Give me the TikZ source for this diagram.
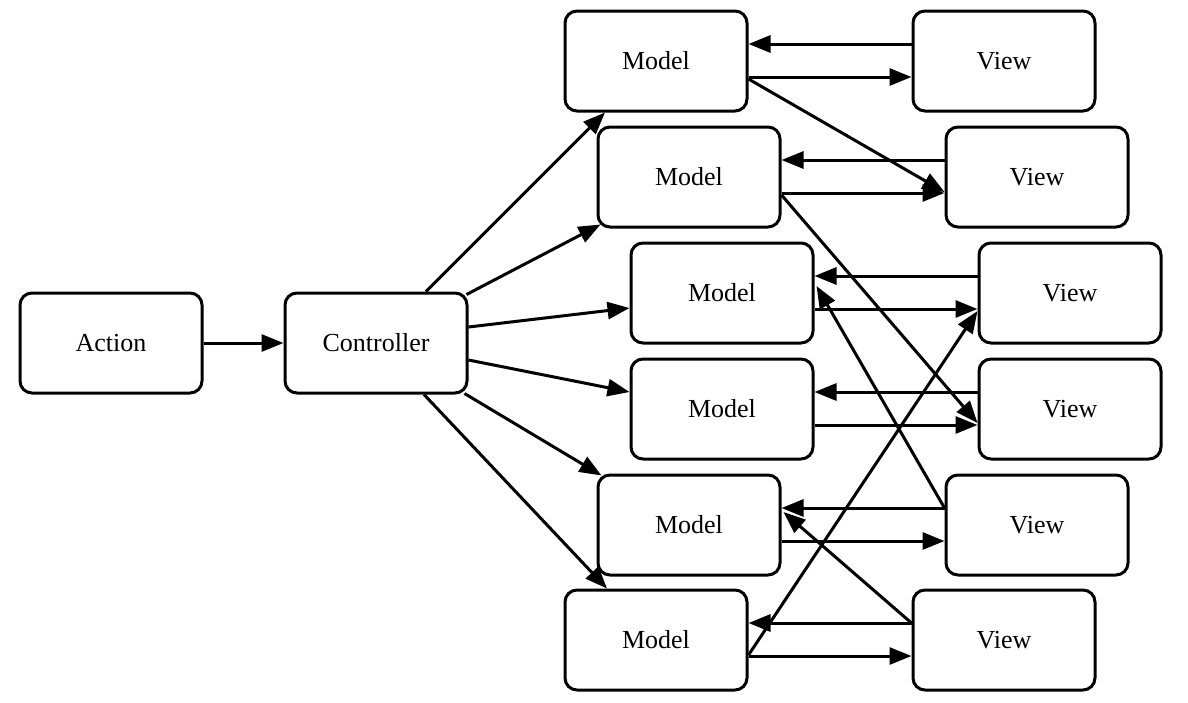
\documentclass[tikz,border=0pt]{standalone}
\usepackage{fontspec}
\setmainfont{Liberation Serif}
\usetikzlibrary{arrows.meta}
\begin{document}
\begin{tikzpicture}[x=1pt,y=-1pt,
  box/.style={draw,line width=3pt,rounded corners=12pt,minimum width=182pt,minimum height=100pt,inner sep=0pt,font=\fontsize{26}{30}\selectfont},
  conn/.style={line width=3pt,-{Triangle[length=22pt,width=17pt]}}]
\useasboundingbox (0,0) rectangle (1188,702);
\node[box] (act) at (111,343) {Action};
\node[box] (ctrl) at (376,343) {Controller};
\node[box] (m1) at (656,61) {Model};
\node[box] (v1) at (1004,61) {View};
\node[box] (m2) at (689,177) {Model};
\node[box] (v2) at (1037,177) {View};
\node[box] (m3) at (722,293) {Model};
\node[box] (v3) at (1070,293) {View};
\node[box] (m4) at (722,409) {Model};
\node[box] (v4) at (1070,409) {View};
\node[box] (m5) at (689,525) {Model};
\node[box] (v5) at (1037,525) {View};
\node[box] (m6) at (656,640) {Model};
\node[box] (v6) at (1004,640) {View};
% action -> controller
\draw[conn] (act) -- (ctrl);
% controller -> models
\draw[conn] ([xshift=50pt]ctrl.north) -- ([xshift=-51pt]m1.south);
\draw[conn] ([xshift=-2pt,yshift=-3pt]ctrl.north east) -- ([xshift=4pt,yshift=4pt]m2.south west);
\draw[conn] ([yshift=16pt]ctrl.east) -- ([yshift=-15pt]m3.west);
\draw[conn] ([yshift=-17pt]ctrl.east) -- ([yshift=17pt]m4.west);
\draw[conn] ([xshift=-4pt,yshift=1pt]ctrl.south east) -- ([xshift=5pt,yshift=-2pt]m5.north west);
\draw[conn] ([xshift=48pt]ctrl.south) -- ([xshift=-49pt]m6.north);
% model <-> view pairs
\foreach \i in {1,...,6}{
  \draw[conn] ([yshift=17pt]v\i.west) -- ([yshift=17pt]m\i.east);
  \draw[conn] ([yshift=-16pt]m\i.east) -- ([yshift=-16pt]v\i.west);
}
% diagonals
\draw[conn] ([yshift=-18pt]m1.east) -- ([yshift=-15pt]v2.west);
\draw[conn] ([yshift=-18pt]m2.east) -- ([yshift=-14pt]v4.west);
\draw[conn] ([yshift=17pt]v5.west) -- ([xshift=2pt,yshift=7pt]m3.east);
\draw[conn] ([yshift=17pt]v6.west) -- ([xshift=2pt,yshift=13pt]m5.east);
\draw[conn] ([yshift=-15pt]m6.east) -- ([yshift=-18pt]v3.west);
\end{tikzpicture}
\end{document}
